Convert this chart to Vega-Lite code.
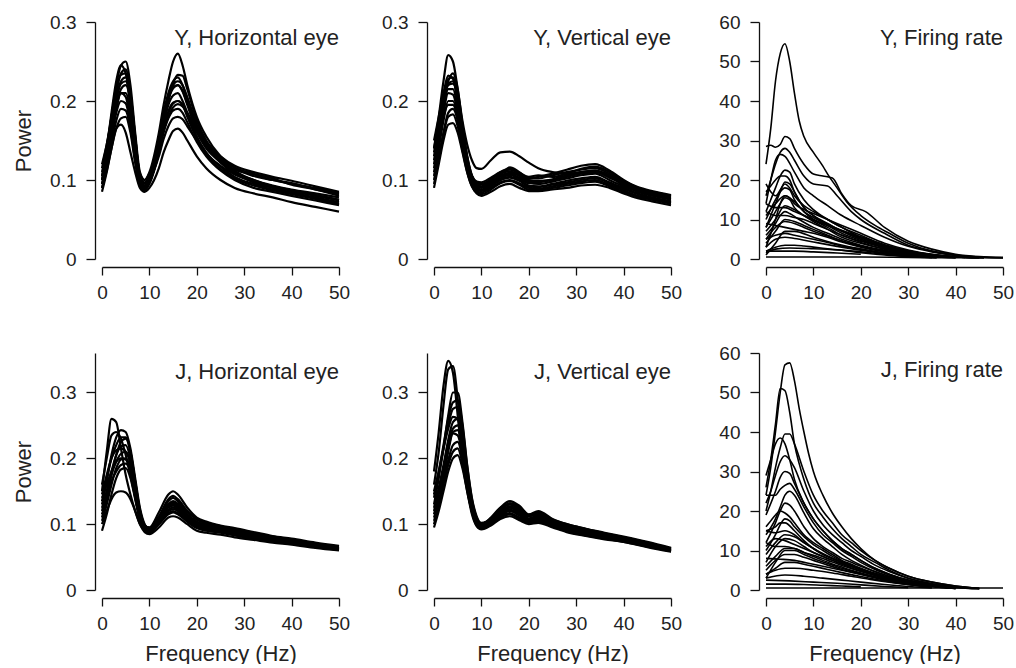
{
"$schema":"https://vega.github.io/schema/vega-lite/v6.json",
"background":"white",
"padding":{"left":12,"top":13,"right":0,"bottom":0},
"config":{
 "font":"Liberation Sans",
 "view":{"stroke":null},
 "axis":{"grid":false,"domainColor":"#111","tickColor":"#111","labelColor":"#222","labelFontSize":19,"labelFlush":false,"labelOverlap":false,"labelBound":false,"domainWidth":1.3,"tickWidth":1.3,"titleFontSize":22,"titleFontWeight":"normal","titleColor":"#222"},
 "axisX":{"tickSize":8,"labelPadding":8,"offset":8,"titlePadding":10},
 "axisY":{"tickSize":9,"labelPadding":10,"offset":7,"titlePadding":14},
 "title":{"fontSize":22,"fontWeight":"normal","color":"#222","anchor":"end","frame":"group","offset":0},
 "line":{"color":"black","interpolate":"monotone"}
},
"datasets":{
"yh":[
{"s":1,"f":0,"v":0.11},{"s":1,"f":1,"v":0.14},{"s":1,"f":2,"v":0.18},{"s":1,"f":3,"v":0.22},{"s":1,"f":4,"v":0.245},{"s":1,"f":5,"v":0.25},{"s":1,"f":6,"v":0.22},{"s":1,"f":7,"v":0.16},{"s":1,"f":8,"v":0.11},{"s":1,"f":9,"v":0.1},{"s":1,"f":10,"v":0.11},{"s":1,"f":12,"v":0.16},{"s":1,"f":13,"v":0.195},{"s":1,"f":14,"v":0.225},{"s":1,"f":15,"v":0.25},{"s":1,"f":16,"v":0.26},{"s":1,"f":17,"v":0.245},{"s":1,"f":18,"v":0.22},{"s":1,"f":20,"v":0.18},{"s":1,"f":22,"v":0.155},{"s":1,"f":25,"v":0.13},{"s":1,"f":28,"v":0.115},{"s":1,"f":32,"v":0.105},{"s":1,"f":36,"v":0.1},{"s":1,"f":40,"v":0.095},{"s":1,"f":45,"v":0.09},{"s":1,"f":50,"v":0.083},
{"s":2,"f":0,"v":0.085},{"s":2,"f":1,"v":0.11},{"s":2,"f":2,"v":0.14},{"s":2,"f":3,"v":0.165},{"s":2,"f":4,"v":0.17},{"s":2,"f":5,"v":0.16},{"s":2,"f":6,"v":0.135},{"s":2,"f":7,"v":0.11},{"s":2,"f":8,"v":0.09},{"s":2,"f":9,"v":0.085},{"s":2,"f":10,"v":0.09},{"s":2,"f":12,"v":0.115},{"s":2,"f":13,"v":0.135},{"s":2,"f":14,"v":0.15},{"s":2,"f":15,"v":0.162},{"s":2,"f":16,"v":0.165},{"s":2,"f":17,"v":0.16},{"s":2,"f":18,"v":0.15},{"s":2,"f":20,"v":0.13},{"s":2,"f":22,"v":0.115},{"s":2,"f":25,"v":0.1},{"s":2,"f":28,"v":0.09},{"s":2,"f":32,"v":0.083},{"s":2,"f":36,"v":0.078},{"s":2,"f":40,"v":0.072},{"s":2,"f":45,"v":0.066},{"s":2,"f":50,"v":0.06},
{"s":3,"f":0,"v":0.1},{"s":3,"f":1,"v":0.13},{"s":3,"f":2,"v":0.17},{"s":3,"f":3,"v":0.21},{"s":3,"f":4,"v":0.235},{"s":3,"f":5,"v":0.24},{"s":3,"f":6,"v":0.21},{"s":3,"f":7,"v":0.155},{"s":3,"f":8,"v":0.105},{"s":3,"f":9,"v":0.095},{"s":3,"f":10,"v":0.105},{"s":3,"f":12,"v":0.15},{"s":3,"f":13,"v":0.185},{"s":3,"f":14,"v":0.21},{"s":3,"f":15,"v":0.225},{"s":3,"f":16,"v":0.23},{"s":3,"f":17,"v":0.22},{"s":3,"f":18,"v":0.2},{"s":3,"f":20,"v":0.165},{"s":3,"f":22,"v":0.145},{"s":3,"f":25,"v":0.125},{"s":3,"f":28,"v":0.11},{"s":3,"f":32,"v":0.1},{"s":3,"f":36,"v":0.093},{"s":3,"f":40,"v":0.088},{"s":3,"f":45,"v":0.083},{"s":3,"f":50,"v":0.078},
{"s":4,"f":0,"v":0.095},{"s":4,"f":1,"v":0.125},{"s":4,"f":2,"v":0.16},{"s":4,"f":3,"v":0.19},{"s":4,"f":4,"v":0.21},{"s":4,"f":5,"v":0.205},{"s":4,"f":6,"v":0.175},{"s":4,"f":7,"v":0.13},{"s":4,"f":8,"v":0.095},{"s":4,"f":9,"v":0.088},{"s":4,"f":10,"v":0.098},{"s":4,"f":12,"v":0.14},{"s":4,"f":13,"v":0.17},{"s":4,"f":14,"v":0.195},{"s":4,"f":15,"v":0.207},{"s":4,"f":16,"v":0.21},{"s":4,"f":17,"v":0.2},{"s":4,"f":18,"v":0.185},{"s":4,"f":20,"v":0.155},{"s":4,"f":22,"v":0.135},{"s":4,"f":25,"v":0.117},{"s":4,"f":28,"v":0.104},{"s":4,"f":32,"v":0.095},{"s":4,"f":36,"v":0.088},{"s":4,"f":40,"v":0.083},{"s":4,"f":45,"v":0.077},{"s":4,"f":50,"v":0.07},
{"s":5,"f":0,"v":0.12},{"s":5,"f":1,"v":0.145},{"s":5,"f":2,"v":0.175},{"s":5,"f":3,"v":0.205},{"s":5,"f":4,"v":0.225},{"s":5,"f":5,"v":0.23},{"s":5,"f":6,"v":0.205},{"s":5,"f":7,"v":0.15},{"s":5,"f":8,"v":0.108},{"s":5,"f":9,"v":0.1},{"s":5,"f":10,"v":0.108},{"s":5,"f":12,"v":0.142},{"s":5,"f":13,"v":0.165},{"s":5,"f":14,"v":0.185},{"s":5,"f":15,"v":0.197},{"s":5,"f":16,"v":0.2},{"s":5,"f":17,"v":0.195},{"s":5,"f":18,"v":0.183},{"s":5,"f":20,"v":0.16},{"s":5,"f":22,"v":0.14},{"s":5,"f":25,"v":0.123},{"s":5,"f":28,"v":0.113},{"s":5,"f":32,"v":0.107},{"s":5,"f":36,"v":0.1},{"s":5,"f":40,"v":0.096},{"s":5,"f":45,"v":0.088},{"s":5,"f":50,"v":0.082},
{"s":6,"f":0,"v":0.09},{"s":6,"f":1,"v":0.115},{"s":6,"f":2,"v":0.145},{"s":6,"f":3,"v":0.175},{"s":6,"f":4,"v":0.19},{"s":6,"f":5,"v":0.188},{"s":6,"f":6,"v":0.165},{"s":6,"f":7,"v":0.125},{"s":6,"f":8,"v":0.095},{"s":6,"f":9,"v":0.09},{"s":6,"f":10,"v":0.097},{"s":6,"f":12,"v":0.135},{"s":6,"f":13,"v":0.16},{"s":6,"f":14,"v":0.178},{"s":6,"f":15,"v":0.188},{"s":6,"f":16,"v":0.19},{"s":6,"f":17,"v":0.185},{"s":6,"f":18,"v":0.173},{"s":6,"f":20,"v":0.148},{"s":6,"f":22,"v":0.13},{"s":6,"f":25,"v":0.112},{"s":6,"f":28,"v":0.1},{"s":6,"f":32,"v":0.09},{"s":6,"f":36,"v":0.085},{"s":6,"f":40,"v":0.08},{"s":6,"f":45,"v":0.074},{"s":6,"f":50,"v":0.068},
{"s":7,"f":0,"v":0.105},{"s":7,"f":1,"v":0.14},{"s":7,"f":2,"v":0.185},{"s":7,"f":3,"v":0.225},{"s":7,"f":4,"v":0.245},{"s":7,"f":5,"v":0.235},{"s":7,"f":6,"v":0.195},{"s":7,"f":7,"v":0.14},{"s":7,"f":8,"v":0.1},{"s":7,"f":9,"v":0.092},{"s":7,"f":10,"v":0.1},{"s":7,"f":12,"v":0.145},{"s":7,"f":13,"v":0.178},{"s":7,"f":14,"v":0.203},{"s":7,"f":15,"v":0.217},{"s":7,"f":16,"v":0.22},{"s":7,"f":17,"v":0.213},{"s":7,"f":18,"v":0.197},{"s":7,"f":20,"v":0.168},{"s":7,"f":22,"v":0.148},{"s":7,"f":25,"v":0.128},{"s":7,"f":28,"v":0.116},{"s":7,"f":32,"v":0.108},{"s":7,"f":36,"v":0.102},{"s":7,"f":40,"v":0.094},{"s":7,"f":45,"v":0.088},{"s":7,"f":50,"v":0.08},
{"s":8,"f":0,"v":0.1},{"s":8,"f":1,"v":0.125},{"s":8,"f":2,"v":0.155},{"s":8,"f":3,"v":0.185},{"s":8,"f":4,"v":0.2},{"s":8,"f":5,"v":0.197},{"s":8,"f":6,"v":0.17},{"s":8,"f":7,"v":0.128},{"s":8,"f":8,"v":0.097},{"s":8,"f":9,"v":0.092},{"s":8,"f":10,"v":0.1},{"s":8,"f":12,"v":0.13},{"s":8,"f":13,"v":0.152},{"s":8,"f":14,"v":0.168},{"s":8,"f":15,"v":0.178},{"s":8,"f":16,"v":0.18},{"s":8,"f":17,"v":0.177},{"s":8,"f":18,"v":0.168},{"s":8,"f":20,"v":0.15},{"s":8,"f":22,"v":0.133},{"s":8,"f":25,"v":0.118},{"s":8,"f":28,"v":0.107},{"s":8,"f":32,"v":0.098},{"s":8,"f":36,"v":0.092},{"s":8,"f":40,"v":0.086},{"s":8,"f":45,"v":0.08},{"s":8,"f":50,"v":0.074},
{"s":9,"f":0,"v":0.095},{"s":9,"f":1,"v":0.12},{"s":9,"f":2,"v":0.155},{"s":9,"f":3,"v":0.19},{"s":9,"f":4,"v":0.215},{"s":9,"f":5,"v":0.22},{"s":9,"f":6,"v":0.198},{"s":9,"f":7,"v":0.145},{"s":9,"f":8,"v":0.1},{"s":9,"f":9,"v":0.09},{"s":9,"f":10,"v":0.097},{"s":9,"f":12,"v":0.14},{"s":9,"f":13,"v":0.172},{"s":9,"f":14,"v":0.2},{"s":9,"f":15,"v":0.222},{"s":9,"f":16,"v":0.233},{"s":9,"f":17,"v":0.232},{"s":9,"f":18,"v":0.215},{"s":9,"f":20,"v":0.175},{"s":9,"f":22,"v":0.15},{"s":9,"f":25,"v":0.128},{"s":9,"f":28,"v":0.112},{"s":9,"f":32,"v":0.1},{"s":9,"f":36,"v":0.092},{"s":9,"f":40,"v":0.087},{"s":9,"f":45,"v":0.081},{"s":9,"f":50,"v":0.075},
{"s":10,"f":0,"v":0.1},{"s":10,"f":1,"v":0.128},{"s":10,"f":2,"v":0.165},{"s":10,"f":3,"v":0.2},{"s":10,"f":4,"v":0.222},{"s":10,"f":5,"v":0.225},{"s":10,"f":6,"v":0.198},{"s":10,"f":7,"v":0.145},{"s":10,"f":8,"v":0.1},{"s":10,"f":9,"v":0.092},{"s":10,"f":10,"v":0.1},{"s":10,"f":12,"v":0.145},{"s":10,"f":13,"v":0.177},{"s":10,"f":14,"v":0.202},{"s":10,"f":15,"v":0.216},{"s":10,"f":16,"v":0.22},{"s":10,"f":17,"v":0.212},{"s":10,"f":18,"v":0.195},{"s":10,"f":20,"v":0.162},{"s":10,"f":22,"v":0.142},{"s":10,"f":25,"v":0.122},{"s":10,"f":28,"v":0.108},{"s":10,"f":32,"v":0.099},{"s":10,"f":36,"v":0.092},{"s":10,"f":40,"v":0.087},{"s":10,"f":45,"v":0.081},{"s":10,"f":50,"v":0.075},
{"s":11,"f":0,"v":0.09},{"s":11,"f":1,"v":0.112},{"s":11,"f":2,"v":0.14},{"s":11,"f":3,"v":0.165},{"s":11,"f":4,"v":0.178},{"s":11,"f":5,"v":0.18},{"s":11,"f":6,"v":0.16},{"s":11,"f":7,"v":0.122},{"s":11,"f":8,"v":0.093},{"s":11,"f":9,"v":0.087},{"s":11,"f":10,"v":0.095},{"s":11,"f":12,"v":0.135},{"s":11,"f":13,"v":0.165},{"s":11,"f":14,"v":0.187},{"s":11,"f":15,"v":0.198},{"s":11,"f":16,"v":0.2},{"s":11,"f":17,"v":0.195},{"s":11,"f":18,"v":0.18},{"s":11,"f":20,"v":0.152},{"s":11,"f":22,"v":0.132},{"s":11,"f":25,"v":0.114},{"s":11,"f":28,"v":0.102},{"s":11,"f":32,"v":0.093},{"s":11,"f":36,"v":0.087},{"s":11,"f":40,"v":0.082},{"s":11,"f":45,"v":0.076},{"s":11,"f":50,"v":0.069},
{"s":12,"f":0,"v":0.115},{"s":12,"f":1,"v":0.145},{"s":12,"f":2,"v":0.18},{"s":12,"f":3,"v":0.215},{"s":12,"f":4,"v":0.233},{"s":12,"f":5,"v":0.235},{"s":12,"f":6,"v":0.21},{"s":12,"f":7,"v":0.155},{"s":12,"f":8,"v":0.105},{"s":12,"f":9,"v":0.097},{"s":12,"f":10,"v":0.105},{"s":12,"f":12,"v":0.14},{"s":12,"f":13,"v":0.163},{"s":12,"f":14,"v":0.18},{"s":12,"f":15,"v":0.192},{"s":12,"f":16,"v":0.196},{"s":12,"f":17,"v":0.193},{"s":12,"f":18,"v":0.185},{"s":12,"f":20,"v":0.165},{"s":12,"f":22,"v":0.148},{"s":12,"f":25,"v":0.13},{"s":12,"f":28,"v":0.118},{"s":12,"f":32,"v":0.11},{"s":12,"f":36,"v":0.104},{"s":12,"f":40,"v":0.099},{"s":12,"f":45,"v":0.092},{"s":12,"f":50,"v":0.085},
{"s":13,"f":0,"v":0.105},{"s":13,"f":1,"v":0.13},{"s":13,"f":2,"v":0.165},{"s":13,"f":3,"v":0.195},{"s":13,"f":4,"v":0.21},{"s":13,"f":5,"v":0.21},{"s":13,"f":6,"v":0.185},{"s":13,"f":7,"v":0.138},{"s":13,"f":8,"v":0.1},{"s":13,"f":9,"v":0.093},{"s":13,"f":10,"v":0.1},{"s":13,"f":12,"v":0.145},{"s":13,"f":13,"v":0.178},{"s":13,"f":14,"v":0.205},{"s":13,"f":15,"v":0.22},{"s":13,"f":16,"v":0.225},{"s":13,"f":17,"v":0.22},{"s":13,"f":18,"v":0.205},{"s":13,"f":20,"v":0.17},{"s":13,"f":22,"v":0.146},{"s":13,"f":25,"v":0.124},{"s":13,"f":28,"v":0.109},{"s":13,"f":32,"v":0.097},{"s":13,"f":36,"v":0.09},{"s":13,"f":40,"v":0.084},{"s":13,"f":45,"v":0.078},{"s":13,"f":50,"v":0.072}
],
"yv":[
{"s":1,"f":0,"v":0.14},{"s":1,"f":1,"v":0.18},{"s":1,"f":2,"v":0.225},{"s":1,"f":3,"v":0.258},{"s":1,"f":4,"v":0.25},{"s":1,"f":5,"v":0.215},{"s":1,"f":6,"v":0.175},{"s":1,"f":7,"v":0.145},{"s":1,"f":8,"v":0.125},{"s":1,"f":9,"v":0.115},{"s":1,"f":10,"v":0.114},{"s":1,"f":12,"v":0.125},{"s":1,"f":14,"v":0.135},{"s":1,"f":16,"v":0.136},{"s":1,"f":18,"v":0.13},{"s":1,"f":20,"v":0.122},{"s":1,"f":22,"v":0.115},{"s":1,"f":25,"v":0.11},{"s":1,"f":28,"v":0.108},{"s":1,"f":31,"v":0.11},{"s":1,"f":34,"v":0.112},{"s":1,"f":37,"v":0.105},{"s":1,"f":40,"v":0.095},{"s":1,"f":43,"v":0.088},{"s":1,"f":46,"v":0.085},{"s":1,"f":50,"v":0.08},
{"s":2,"f":0,"v":0.15},{"s":2,"f":1,"v":0.18},{"s":2,"f":2,"v":0.21},{"s":2,"f":3,"v":0.232},{"s":2,"f":4,"v":0.228},{"s":2,"f":5,"v":0.2},{"s":2,"f":6,"v":0.16},{"s":2,"f":7,"v":0.125},{"s":2,"f":8,"v":0.105},{"s":2,"f":9,"v":0.098},{"s":2,"f":10,"v":0.097},{"s":2,"f":12,"v":0.103},{"s":2,"f":14,"v":0.11},{"s":2,"f":16,"v":0.113},{"s":2,"f":18,"v":0.108},{"s":2,"f":20,"v":0.103},{"s":2,"f":22,"v":0.102},{"s":2,"f":25,"v":0.106},{"s":2,"f":28,"v":0.11},{"s":2,"f":31,"v":0.113},{"s":2,"f":34,"v":0.115},{"s":2,"f":37,"v":0.108},{"s":2,"f":40,"v":0.098},{"s":2,"f":43,"v":0.09},{"s":2,"f":46,"v":0.085},{"s":2,"f":50,"v":0.08},
{"s":3,"f":0,"v":0.09},{"s":3,"f":1,"v":0.12},{"s":3,"f":2,"v":0.15},{"s":3,"f":3,"v":0.17},{"s":3,"f":4,"v":0.172},{"s":3,"f":5,"v":0.16},{"s":3,"f":6,"v":0.135},{"s":3,"f":7,"v":0.11},{"s":3,"f":8,"v":0.092},{"s":3,"f":9,"v":0.083},{"s":3,"f":10,"v":0.08},{"s":3,"f":12,"v":0.085},{"s":3,"f":14,"v":0.092},{"s":3,"f":16,"v":0.095},{"s":3,"f":18,"v":0.09},{"s":3,"f":20,"v":0.086},{"s":3,"f":22,"v":0.086},{"s":3,"f":25,"v":0.088},{"s":3,"f":28,"v":0.09},{"s":3,"f":31,"v":0.093},{"s":3,"f":34,"v":0.094},{"s":3,"f":37,"v":0.09},{"s":3,"f":40,"v":0.083},{"s":3,"f":43,"v":0.077},{"s":3,"f":46,"v":0.073},{"s":3,"f":50,"v":0.068},
{"s":4,"f":0,"v":0.12},{"s":4,"f":1,"v":0.155},{"s":4,"f":2,"v":0.19},{"s":4,"f":3,"v":0.215},{"s":4,"f":4,"v":0.215},{"s":4,"f":5,"v":0.19},{"s":4,"f":6,"v":0.15},{"s":4,"f":7,"v":0.118},{"s":4,"f":8,"v":0.1},{"s":4,"f":9,"v":0.092},{"s":4,"f":10,"v":0.09},{"s":4,"f":12,"v":0.096},{"s":4,"f":14,"v":0.104},{"s":4,"f":16,"v":0.107},{"s":4,"f":18,"v":0.103},{"s":4,"f":20,"v":0.097},{"s":4,"f":22,"v":0.095},{"s":4,"f":25,"v":0.098},{"s":4,"f":28,"v":0.102},{"s":4,"f":31,"v":0.106},{"s":4,"f":34,"v":0.108},{"s":4,"f":37,"v":0.1},{"s":4,"f":40,"v":0.092},{"s":4,"f":43,"v":0.085},{"s":4,"f":46,"v":0.08},{"s":4,"f":50,"v":0.075},
{"s":5,"f":0,"v":0.105},{"s":5,"f":1,"v":0.14},{"s":5,"f":2,"v":0.175},{"s":5,"f":3,"v":0.2},{"s":5,"f":4,"v":0.2},{"s":5,"f":5,"v":0.18},{"s":5,"f":6,"v":0.145},{"s":5,"f":7,"v":0.115},{"s":5,"f":8,"v":0.097},{"s":5,"f":9,"v":0.088},{"s":5,"f":10,"v":0.086},{"s":5,"f":12,"v":0.092},{"s":5,"f":14,"v":0.1},{"s":5,"f":16,"v":0.104},{"s":5,"f":18,"v":0.1},{"s":5,"f":20,"v":0.093},{"s":5,"f":22,"v":0.092},{"s":5,"f":25,"v":0.095},{"s":5,"f":28,"v":0.099},{"s":5,"f":31,"v":0.102},{"s":5,"f":34,"v":0.104},{"s":5,"f":37,"v":0.097},{"s":5,"f":40,"v":0.09},{"s":5,"f":43,"v":0.083},{"s":5,"f":46,"v":0.078},{"s":5,"f":50,"v":0.073},
{"s":6,"f":0,"v":0.13},{"s":6,"f":1,"v":0.165},{"s":6,"f":2,"v":0.2},{"s":6,"f":3,"v":0.225},{"s":6,"f":4,"v":0.235},{"s":6,"f":5,"v":0.215},{"s":6,"f":6,"v":0.17},{"s":6,"f":7,"v":0.13},{"s":6,"f":8,"v":0.105},{"s":6,"f":9,"v":0.096},{"s":6,"f":10,"v":0.094},{"s":6,"f":12,"v":0.1},{"s":6,"f":14,"v":0.108},{"s":6,"f":16,"v":0.111},{"s":6,"f":18,"v":0.106},{"s":6,"f":20,"v":0.1},{"s":6,"f":22,"v":0.099},{"s":6,"f":25,"v":0.1},{"s":6,"f":28,"v":0.104},{"s":6,"f":31,"v":0.108},{"s":6,"f":34,"v":0.11},{"s":6,"f":37,"v":0.103},{"s":6,"f":40,"v":0.095},{"s":6,"f":43,"v":0.088},{"s":6,"f":46,"v":0.083},{"s":6,"f":50,"v":0.078},
{"s":7,"f":0,"v":0.1},{"s":7,"f":1,"v":0.13},{"s":7,"f":2,"v":0.16},{"s":7,"f":3,"v":0.185},{"s":7,"f":4,"v":0.19},{"s":7,"f":5,"v":0.175},{"s":7,"f":6,"v":0.142},{"s":7,"f":7,"v":0.113},{"s":7,"f":8,"v":0.094},{"s":7,"f":9,"v":0.086},{"s":7,"f":10,"v":0.084},{"s":7,"f":12,"v":0.09},{"s":7,"f":14,"v":0.097},{"s":7,"f":16,"v":0.1},{"s":7,"f":18,"v":0.096},{"s":7,"f":20,"v":0.09},{"s":7,"f":22,"v":0.089},{"s":7,"f":25,"v":0.092},{"s":7,"f":28,"v":0.095},{"s":7,"f":31,"v":0.098},{"s":7,"f":34,"v":0.1},{"s":7,"f":37,"v":0.094},{"s":7,"f":40,"v":0.087},{"s":7,"f":43,"v":0.08},{"s":7,"f":46,"v":0.076},{"s":7,"f":50,"v":0.071},
{"s":8,"f":0,"v":0.14},{"s":8,"f":1,"v":0.17},{"s":8,"f":2,"v":0.2},{"s":8,"f":3,"v":0.22},{"s":8,"f":4,"v":0.222},{"s":8,"f":5,"v":0.205},{"s":8,"f":6,"v":0.165},{"s":8,"f":7,"v":0.128},{"s":8,"f":8,"v":0.103},{"s":8,"f":9,"v":0.094},{"s":8,"f":10,"v":0.092},{"s":8,"f":12,"v":0.098},{"s":8,"f":14,"v":0.106},{"s":8,"f":16,"v":0.116},{"s":8,"f":18,"v":0.11},{"s":8,"f":20,"v":0.102},{"s":8,"f":22,"v":0.104},{"s":8,"f":25,"v":0.108},{"s":8,"f":28,"v":0.113},{"s":8,"f":31,"v":0.118},{"s":8,"f":34,"v":0.12},{"s":8,"f":37,"v":0.112},{"s":8,"f":40,"v":0.1},{"s":8,"f":43,"v":0.09},{"s":8,"f":46,"v":0.084},{"s":8,"f":50,"v":0.079},
{"s":9,"f":0,"v":0.11},{"s":9,"f":1,"v":0.145},{"s":9,"f":2,"v":0.185},{"s":9,"f":3,"v":0.21},{"s":9,"f":4,"v":0.208},{"s":9,"f":5,"v":0.185},{"s":9,"f":6,"v":0.15},{"s":9,"f":7,"v":0.12},{"s":9,"f":8,"v":0.1},{"s":9,"f":9,"v":0.09},{"s":9,"f":10,"v":0.088},{"s":9,"f":12,"v":0.094},{"s":9,"f":14,"v":0.102},{"s":9,"f":16,"v":0.106},{"s":9,"f":18,"v":0.102},{"s":9,"f":20,"v":0.096},{"s":9,"f":22,"v":0.097},{"s":9,"f":25,"v":0.1},{"s":9,"f":28,"v":0.105},{"s":9,"f":31,"v":0.109},{"s":9,"f":34,"v":0.111},{"s":9,"f":37,"v":0.105},{"s":9,"f":40,"v":0.093},{"s":9,"f":43,"v":0.086},{"s":9,"f":46,"v":0.081},{"s":9,"f":50,"v":0.076},
{"s":10,"f":0,"v":0.125},{"s":10,"f":1,"v":0.16},{"s":10,"f":2,"v":0.195},{"s":10,"f":3,"v":0.222},{"s":10,"f":4,"v":0.225},{"s":10,"f":5,"v":0.2},{"s":10,"f":6,"v":0.16},{"s":10,"f":7,"v":0.124},{"s":10,"f":8,"v":0.102},{"s":10,"f":9,"v":0.093},{"s":10,"f":10,"v":0.091},{"s":10,"f":12,"v":0.097},{"s":10,"f":14,"v":0.105},{"s":10,"f":16,"v":0.109},{"s":10,"f":18,"v":0.105},{"s":10,"f":20,"v":0.099},{"s":10,"f":22,"v":0.098},{"s":10,"f":25,"v":0.101},{"s":10,"f":28,"v":0.106},{"s":10,"f":31,"v":0.11},{"s":10,"f":34,"v":0.112},{"s":10,"f":37,"v":0.106},{"s":10,"f":40,"v":0.096},{"s":10,"f":43,"v":0.088},{"s":10,"f":46,"v":0.082},{"s":10,"f":50,"v":0.077},
{"s":11,"f":0,"v":0.095},{"s":11,"f":1,"v":0.125},{"s":11,"f":2,"v":0.158},{"s":11,"f":3,"v":0.18},{"s":11,"f":4,"v":0.183},{"s":11,"f":5,"v":0.168},{"s":11,"f":6,"v":0.138},{"s":11,"f":7,"v":0.11},{"s":11,"f":8,"v":0.092},{"s":11,"f":9,"v":0.084},{"s":11,"f":10,"v":0.082},{"s":11,"f":12,"v":0.088},{"s":11,"f":14,"v":0.096},{"s":11,"f":16,"v":0.099},{"s":11,"f":18,"v":0.094},{"s":11,"f":20,"v":0.088},{"s":11,"f":22,"v":0.088},{"s":11,"f":25,"v":0.09},{"s":11,"f":28,"v":0.093},{"s":11,"f":31,"v":0.096},{"s":11,"f":34,"v":0.098},{"s":11,"f":37,"v":0.092},{"s":11,"f":40,"v":0.085},{"s":11,"f":43,"v":0.079},{"s":11,"f":46,"v":0.075},{"s":11,"f":50,"v":0.07},
{"s":12,"f":0,"v":0.135},{"s":12,"f":1,"v":0.17},{"s":12,"f":2,"v":0.205},{"s":12,"f":3,"v":0.228},{"s":12,"f":4,"v":0.23},{"s":12,"f":5,"v":0.21},{"s":12,"f":6,"v":0.168},{"s":12,"f":7,"v":0.13},{"s":12,"f":8,"v":0.106},{"s":12,"f":9,"v":0.097},{"s":12,"f":10,"v":0.095},{"s":12,"f":12,"v":0.101},{"s":12,"f":14,"v":0.11},{"s":12,"f":16,"v":0.114},{"s":12,"f":18,"v":0.109},{"s":12,"f":20,"v":0.104},{"s":12,"f":22,"v":0.106},{"s":12,"f":25,"v":0.104},{"s":12,"f":28,"v":0.108},{"s":12,"f":31,"v":0.114},{"s":12,"f":34,"v":0.117},{"s":12,"f":37,"v":0.11},{"s":12,"f":40,"v":0.099},{"s":12,"f":43,"v":0.091},{"s":12,"f":46,"v":0.086},{"s":12,"f":50,"v":0.081},
{"s":13,"f":0,"v":0.115},{"s":13,"f":1,"v":0.15},{"s":13,"f":2,"v":0.18},{"s":13,"f":3,"v":0.195},{"s":13,"f":4,"v":0.195},{"s":13,"f":5,"v":0.178},{"s":13,"f":6,"v":0.145},{"s":13,"f":7,"v":0.117},{"s":13,"f":8,"v":0.098},{"s":13,"f":9,"v":0.09},{"s":13,"f":10,"v":0.087},{"s":13,"f":12,"v":0.093},{"s":13,"f":14,"v":0.1},{"s":13,"f":16,"v":0.103},{"s":13,"f":18,"v":0.099},{"s":13,"f":20,"v":0.092},{"s":13,"f":22,"v":0.091},{"s":13,"f":25,"v":0.094},{"s":13,"f":28,"v":0.097},{"s":13,"f":31,"v":0.1},{"s":13,"f":34,"v":0.102},{"s":13,"f":37,"v":0.096},{"s":13,"f":40,"v":0.089},{"s":13,"f":43,"v":0.082},{"s":13,"f":46,"v":0.077},{"s":13,"f":50,"v":0.072}
],
"jh":[
{"s":1,"f":0,"v":0.15},{"s":1,"f":1,"v":0.21},{"s":1,"f":2,"v":0.26},{"s":1,"f":3,"v":0.255},{"s":1,"f":4,"v":0.215},{"s":1,"f":5,"v":0.175},{"s":1,"f":6,"v":0.145},{"s":1,"f":7,"v":0.12},{"s":1,"f":8,"v":0.1},{"s":1,"f":9,"v":0.092},{"s":1,"f":10,"v":0.092},{"s":1,"f":12,"v":0.11},{"s":1,"f":14,"v":0.13},{"s":1,"f":15,"v":0.133},{"s":1,"f":16,"v":0.128},{"s":1,"f":18,"v":0.112},{"s":1,"f":20,"v":0.103},{"s":1,"f":22,"v":0.1},{"s":1,"f":25,"v":0.095},{"s":1,"f":28,"v":0.09},{"s":1,"f":32,"v":0.085},{"s":1,"f":36,"v":0.08},{"s":1,"f":40,"v":0.076},{"s":1,"f":45,"v":0.07},{"s":1,"f":50,"v":0.066},
{"s":2,"f":0,"v":0.13},{"s":2,"f":1,"v":0.165},{"s":2,"f":2,"v":0.205},{"s":2,"f":3,"v":0.232},{"s":2,"f":4,"v":0.243},{"s":2,"f":5,"v":0.24},{"s":2,"f":6,"v":0.215},{"s":2,"f":7,"v":0.17},{"s":2,"f":8,"v":0.125},{"s":2,"f":9,"v":0.1},{"s":2,"f":10,"v":0.092},{"s":2,"f":12,"v":0.11},{"s":2,"f":14,"v":0.135},{"s":2,"f":15,"v":0.14},{"s":2,"f":16,"v":0.135},{"s":2,"f":18,"v":0.118},{"s":2,"f":20,"v":0.108},{"s":2,"f":22,"v":0.102},{"s":2,"f":25,"v":0.097},{"s":2,"f":28,"v":0.092},{"s":2,"f":32,"v":0.086},{"s":2,"f":36,"v":0.08},{"s":2,"f":40,"v":0.075},{"s":2,"f":45,"v":0.069},{"s":2,"f":50,"v":0.064},
{"s":3,"f":0,"v":0.1},{"s":3,"f":1,"v":0.12},{"s":3,"f":2,"v":0.138},{"s":3,"f":3,"v":0.148},{"s":3,"f":4,"v":0.15},{"s":3,"f":5,"v":0.148},{"s":3,"f":6,"v":0.138},{"s":3,"f":7,"v":0.12},{"s":3,"f":8,"v":0.1},{"s":3,"f":9,"v":0.088},{"s":3,"f":10,"v":0.085},{"s":3,"f":12,"v":0.095},{"s":3,"f":14,"v":0.11},{"s":3,"f":15,"v":0.112},{"s":3,"f":16,"v":0.11},{"s":3,"f":18,"v":0.1},{"s":3,"f":20,"v":0.09},{"s":3,"f":22,"v":0.087},{"s":3,"f":25,"v":0.084},{"s":3,"f":28,"v":0.08},{"s":3,"f":32,"v":0.076},{"s":3,"f":36,"v":0.072},{"s":3,"f":40,"v":0.069},{"s":3,"f":45,"v":0.064},{"s":3,"f":50,"v":0.06},
{"s":4,"f":0,"v":0.12},{"s":4,"f":1,"v":0.15},{"s":4,"f":2,"v":0.18},{"s":4,"f":3,"v":0.205},{"s":4,"f":4,"v":0.218},{"s":4,"f":5,"v":0.22},{"s":4,"f":6,"v":0.2},{"s":4,"f":7,"v":0.16},{"s":4,"f":8,"v":0.118},{"s":4,"f":9,"v":0.095},{"s":4,"f":10,"v":0.09},{"s":4,"f":12,"v":0.105},{"s":4,"f":14,"v":0.125},{"s":4,"f":15,"v":0.128},{"s":4,"f":16,"v":0.124},{"s":4,"f":18,"v":0.11},{"s":4,"f":20,"v":0.1},{"s":4,"f":22,"v":0.095},{"s":4,"f":25,"v":0.091},{"s":4,"f":28,"v":0.087},{"s":4,"f":32,"v":0.082},{"s":4,"f":36,"v":0.077},{"s":4,"f":40,"v":0.073},{"s":4,"f":45,"v":0.067},{"s":4,"f":50,"v":0.062},
{"s":5,"f":0,"v":0.14},{"s":5,"f":1,"v":0.16},{"s":5,"f":2,"v":0.18},{"s":5,"f":3,"v":0.195},{"s":5,"f":4,"v":0.2},{"s":5,"f":5,"v":0.198},{"s":5,"f":6,"v":0.18},{"s":5,"f":7,"v":0.145},{"s":5,"f":8,"v":0.11},{"s":5,"f":9,"v":0.093},{"s":5,"f":10,"v":0.09},{"s":5,"f":12,"v":0.102},{"s":5,"f":14,"v":0.12},{"s":5,"f":15,"v":0.123},{"s":5,"f":16,"v":0.12},{"s":5,"f":18,"v":0.107},{"s":5,"f":20,"v":0.097},{"s":5,"f":22,"v":0.093},{"s":5,"f":25,"v":0.089},{"s":5,"f":28,"v":0.085},{"s":5,"f":32,"v":0.08},{"s":5,"f":36,"v":0.076},{"s":5,"f":40,"v":0.072},{"s":5,"f":45,"v":0.066},{"s":5,"f":50,"v":0.062},
{"s":6,"f":0,"v":0.16},{"s":6,"f":1,"v":0.2},{"s":6,"f":2,"v":0.235},{"s":6,"f":3,"v":0.24},{"s":6,"f":4,"v":0.23},{"s":6,"f":5,"v":0.205},{"s":6,"f":6,"v":0.175},{"s":6,"f":7,"v":0.14},{"s":6,"f":8,"v":0.11},{"s":6,"f":9,"v":0.095},{"s":6,"f":10,"v":0.093},{"s":6,"f":12,"v":0.107},{"s":6,"f":14,"v":0.127},{"s":6,"f":15,"v":0.13},{"s":6,"f":16,"v":0.126},{"s":6,"f":18,"v":0.112},{"s":6,"f":20,"v":0.102},{"s":6,"f":22,"v":0.098},{"s":6,"f":25,"v":0.093},{"s":6,"f":28,"v":0.089},{"s":6,"f":32,"v":0.084},{"s":6,"f":36,"v":0.079},{"s":6,"f":40,"v":0.075},{"s":6,"f":45,"v":0.069},{"s":6,"f":50,"v":0.065},
{"s":7,"f":0,"v":0.11},{"s":7,"f":1,"v":0.14},{"s":7,"f":2,"v":0.175},{"s":7,"f":3,"v":0.205},{"s":7,"f":4,"v":0.225},{"s":7,"f":5,"v":0.23},{"s":7,"f":6,"v":0.21},{"s":7,"f":7,"v":0.165},{"s":7,"f":8,"v":0.12},{"s":7,"f":9,"v":0.098},{"s":7,"f":10,"v":0.095},{"s":7,"f":12,"v":0.118},{"s":7,"f":14,"v":0.145},{"s":7,"f":15,"v":0.15},{"s":7,"f":16,"v":0.145},{"s":7,"f":18,"v":0.125},{"s":7,"f":20,"v":0.11},{"s":7,"f":22,"v":0.104},{"s":7,"f":25,"v":0.098},{"s":7,"f":28,"v":0.094},{"s":7,"f":32,"v":0.088},{"s":7,"f":36,"v":0.082},{"s":7,"f":40,"v":0.078},{"s":7,"f":45,"v":0.072},{"s":7,"f":50,"v":0.067},
{"s":8,"f":0,"v":0.09},{"s":8,"f":1,"v":0.115},{"s":8,"f":2,"v":0.145},{"s":8,"f":3,"v":0.17},{"s":8,"f":4,"v":0.183},{"s":8,"f":5,"v":0.185},{"s":8,"f":6,"v":0.17},{"s":8,"f":7,"v":0.138},{"s":8,"f":8,"v":0.105},{"s":8,"f":9,"v":0.09},{"s":8,"f":10,"v":0.087},{"s":8,"f":12,"v":0.1},{"s":8,"f":14,"v":0.117},{"s":8,"f":15,"v":0.12},{"s":8,"f":16,"v":0.117},{"s":8,"f":18,"v":0.104},{"s":8,"f":20,"v":0.094},{"s":8,"f":22,"v":0.09},{"s":8,"f":25,"v":0.087},{"s":8,"f":28,"v":0.083},{"s":8,"f":32,"v":0.078},{"s":8,"f":36,"v":0.074},{"s":8,"f":40,"v":0.071},{"s":8,"f":45,"v":0.065},{"s":8,"f":50,"v":0.061},
{"s":9,"f":0,"v":0.125},{"s":9,"f":1,"v":0.15},{"s":9,"f":2,"v":0.175},{"s":9,"f":3,"v":0.195},{"s":9,"f":4,"v":0.207},{"s":9,"f":5,"v":0.21},{"s":9,"f":6,"v":0.195},{"s":9,"f":7,"v":0.155},{"s":9,"f":8,"v":0.115},{"s":9,"f":9,"v":0.097},{"s":9,"f":10,"v":0.094},{"s":9,"f":12,"v":0.108},{"s":9,"f":14,"v":0.13},{"s":9,"f":15,"v":0.135},{"s":9,"f":16,"v":0.131},{"s":9,"f":18,"v":0.115},{"s":9,"f":20,"v":0.104},{"s":9,"f":22,"v":0.098},{"s":9,"f":25,"v":0.094},{"s":9,"f":28,"v":0.09},{"s":9,"f":32,"v":0.085},{"s":9,"f":36,"v":0.079},{"s":9,"f":40,"v":0.074},{"s":9,"f":45,"v":0.068},{"s":9,"f":50,"v":0.063},
{"s":10,"f":0,"v":0.105},{"s":10,"f":1,"v":0.13},{"s":10,"f":2,"v":0.16},{"s":10,"f":3,"v":0.185},{"s":10,"f":4,"v":0.198},{"s":10,"f":5,"v":0.2},{"s":10,"f":6,"v":0.185},{"s":10,"f":7,"v":0.148},{"s":10,"f":8,"v":0.112},{"s":10,"f":9,"v":0.094},{"s":10,"f":10,"v":0.09},{"s":10,"f":12,"v":0.104},{"s":10,"f":14,"v":0.122},{"s":10,"f":15,"v":0.125},{"s":10,"f":16,"v":0.122},{"s":10,"f":18,"v":0.108},{"s":10,"f":20,"v":0.098},{"s":10,"f":22,"v":0.093},{"s":10,"f":25,"v":0.09},{"s":10,"f":28,"v":0.086},{"s":10,"f":32,"v":0.081},{"s":10,"f":36,"v":0.077},{"s":10,"f":40,"v":0.073},{"s":10,"f":45,"v":0.067},{"s":10,"f":50,"v":0.063},
{"s":11,"f":0,"v":0.135},{"s":11,"f":1,"v":0.17},{"s":11,"f":2,"v":0.2},{"s":11,"f":3,"v":0.22},{"s":11,"f":4,"v":0.232},{"s":11,"f":5,"v":0.232},{"s":11,"f":6,"v":0.21},{"s":11,"f":7,"v":0.165},{"s":11,"f":8,"v":0.122},{"s":11,"f":9,"v":0.099},{"s":11,"f":10,"v":0.094},{"s":11,"f":12,"v":0.112},{"s":11,"f":14,"v":0.138},{"s":11,"f":15,"v":0.143},{"s":11,"f":16,"v":0.138},{"s":11,"f":18,"v":0.12},{"s":11,"f":20,"v":0.107},{"s":11,"f":22,"v":0.101},{"s":11,"f":25,"v":0.096},{"s":11,"f":28,"v":0.092},{"s":11,"f":32,"v":0.087},{"s":11,"f":36,"v":0.081},{"s":11,"f":40,"v":0.077},{"s":11,"f":45,"v":0.071},{"s":11,"f":50,"v":0.066},
{"s":12,"f":0,"v":0.115},{"s":12,"f":1,"v":0.14},{"s":12,"f":2,"v":0.165},{"s":12,"f":3,"v":0.18},{"s":12,"f":4,"v":0.19},{"s":12,"f":5,"v":0.192},{"s":12,"f":6,"v":0.178},{"s":12,"f":7,"v":0.142},{"s":12,"f":8,"v":0.108},{"s":12,"f":9,"v":0.092},{"s":12,"f":10,"v":0.089},{"s":12,"f":12,"v":0.1},{"s":12,"f":14,"v":0.115},{"s":12,"f":15,"v":0.118},{"s":12,"f":16,"v":0.115},{"s":12,"f":18,"v":0.104},{"s":12,"f":20,"v":0.095},{"s":12,"f":22,"v":0.091},{"s":12,"f":25,"v":0.088},{"s":12,"f":28,"v":0.084},{"s":12,"f":32,"v":0.079},{"s":12,"f":36,"v":0.075},{"s":12,"f":40,"v":0.071},{"s":12,"f":45,"v":0.066},{"s":12,"f":50,"v":0.061},
{"s":13,"f":0,"v":0.145},{"s":13,"f":1,"v":0.175},{"s":13,"f":2,"v":0.2},{"s":13,"f":3,"v":0.212},{"s":13,"f":4,"v":0.215},{"s":13,"f":5,"v":0.21},{"s":13,"f":6,"v":0.192},{"s":13,"f":7,"v":0.152},{"s":13,"f":8,"v":0.113},{"s":13,"f":9,"v":0.096},{"s":13,"f":10,"v":0.093},{"s":13,"f":12,"v":0.108},{"s":13,"f":14,"v":0.128},{"s":13,"f":15,"v":0.132},{"s":13,"f":16,"v":0.128},{"s":13,"f":18,"v":0.113},{"s":13,"f":20,"v":0.102},{"s":13,"f":22,"v":0.097},{"s":13,"f":25,"v":0.093},{"s":13,"f":28,"v":0.089},{"s":13,"f":32,"v":0.084},{"s":13,"f":36,"v":0.078},{"s":13,"f":40,"v":0.074},{"s":13,"f":45,"v":0.068},{"s":13,"f":50,"v":0.064}
],
"jv":[
{"s":1,"f":0,"v":0.18},{"s":1,"f":1,"v":0.24},{"s":1,"f":2,"v":0.31},{"s":1,"f":3,"v":0.348},{"s":1,"f":4,"v":0.33},{"s":1,"f":5,"v":0.265},{"s":1,"f":6,"v":0.195},{"s":1,"f":7,"v":0.15},{"s":1,"f":8,"v":0.12},{"s":1,"f":9,"v":0.105},{"s":1,"f":10,"v":0.1},{"s":1,"f":12,"v":0.108},{"s":1,"f":14,"v":0.12},{"s":1,"f":16,"v":0.125},{"s":1,"f":18,"v":0.118},{"s":1,"f":20,"v":0.112},{"s":1,"f":22,"v":0.115},{"s":1,"f":25,"v":0.105},{"s":1,"f":28,"v":0.098},{"s":1,"f":32,"v":0.092},{"s":1,"f":36,"v":0.085},{"s":1,"f":40,"v":0.08},{"s":1,"f":45,"v":0.072},{"s":1,"f":50,"v":0.063},
{"s":2,"f":0,"v":0.16},{"s":2,"f":1,"v":0.21},{"s":2,"f":2,"v":0.28},{"s":2,"f":3,"v":0.335},{"s":2,"f":4,"v":0.34},{"s":2,"f":5,"v":0.29},{"s":2,"f":6,"v":0.21},{"s":2,"f":7,"v":0.155},{"s":2,"f":8,"v":0.122},{"s":2,"f":9,"v":0.105},{"s":2,"f":10,"v":0.1},{"s":2,"f":12,"v":0.11},{"s":2,"f":14,"v":0.125},{"s":2,"f":16,"v":0.13},{"s":2,"f":18,"v":0.122},{"s":2,"f":20,"v":0.113},{"s":2,"f":22,"v":0.118},{"s":2,"f":25,"v":0.107},{"s":2,"f":28,"v":0.1},{"s":2,"f":32,"v":0.093},{"s":2,"f":36,"v":0.086},{"s":2,"f":40,"v":0.08},{"s":2,"f":45,"v":0.072},{"s":2,"f":50,"v":0.063},
{"s":3,"f":0,"v":0.13},{"s":3,"f":1,"v":0.17},{"s":3,"f":2,"v":0.215},{"s":3,"f":3,"v":0.265},{"s":3,"f":4,"v":0.3},{"s":3,"f":5,"v":0.3},{"s":3,"f":6,"v":0.255},{"s":3,"f":7,"v":0.19},{"s":3,"f":8,"v":0.14},{"s":3,"f":9,"v":0.112},{"s":3,"f":10,"v":0.102},{"s":3,"f":12,"v":0.108},{"s":3,"f":14,"v":0.125},{"s":3,"f":16,"v":0.135},{"s":3,"f":18,"v":0.128},{"s":3,"f":20,"v":0.115},{"s":3,"f":22,"v":0.12},{"s":3,"f":25,"v":0.108},{"s":3,"f":28,"v":0.1},{"s":3,"f":32,"v":0.093},{"s":3,"f":36,"v":0.087},{"s":3,"f":40,"v":0.081},{"s":3,"f":45,"v":0.073},{"s":3,"f":50,"v":0.064},
{"s":4,"f":0,"v":0.095},{"s":4,"f":1,"v":0.12},{"s":4,"f":2,"v":0.15},{"s":4,"f":3,"v":0.18},{"s":4,"f":4,"v":0.2},{"s":4,"f":5,"v":0.205},{"s":4,"f":6,"v":0.185},{"s":4,"f":7,"v":0.15},{"s":4,"f":8,"v":0.115},{"s":4,"f":9,"v":0.097},{"s":4,"f":10,"v":0.092},{"s":4,"f":12,"v":0.098},{"s":4,"f":14,"v":0.108},{"s":4,"f":16,"v":0.112},{"s":4,"f":18,"v":0.106},{"s":4,"f":20,"v":0.1},{"s":4,"f":22,"v":0.102},{"s":4,"f":25,"v":0.095},{"s":4,"f":28,"v":0.088},{"s":4,"f":32,"v":0.082},{"s":4,"f":36,"v":0.077},{"s":4,"f":40,"v":0.073},{"s":4,"f":45,"v":0.065},{"s":4,"f":50,"v":0.058},
{"s":5,"f":0,"v":0.12},{"s":5,"f":1,"v":0.15},{"s":5,"f":2,"v":0.185},{"s":5,"f":3,"v":0.22},{"s":5,"f":4,"v":0.245},{"s":5,"f":5,"v":0.25},{"s":5,"f":6,"v":0.22},{"s":5,"f":7,"v":0.17},{"s":5,"f":8,"v":0.128},{"s":5,"f":9,"v":0.105},{"s":5,"f":10,"v":0.097},{"s":5,"f":12,"v":0.103},{"s":5,"f":14,"v":0.116},{"s":5,"f":16,"v":0.122},{"s":5,"f":18,"v":0.115},{"s":5,"f":20,"v":0.107},{"s":5,"f":22,"v":0.11},{"s":5,"f":25,"v":0.1},{"s":5,"f":28,"v":0.093},{"s":5,"f":32,"v":0.087},{"s":5,"f":36,"v":0.081},{"s":5,"f":40,"v":0.076},{"s":5,"f":45,"v":0.068},{"s":5,"f":50,"v":0.06},
{"s":6,"f":0,"v":0.14},{"s":6,"f":1,"v":0.175},{"s":6,"f":2,"v":0.215},{"s":6,"f":3,"v":0.25},{"s":6,"f":4,"v":0.275},{"s":6,"f":5,"v":0.278},{"s":6,"f":6,"v":0.24},{"s":6,"f":7,"v":0.18},{"s":6,"f":8,"v":0.133},{"s":6,"f":9,"v":0.108},{"s":6,"f":10,"v":0.1},{"s":6,"f":12,"v":0.106},{"s":6,"f":14,"v":0.12},{"s":6,"f":16,"v":0.13},{"s":6,"f":18,"v":0.124},{"s":6,"f":20,"v":0.112},{"s":6,"f":22,"v":0.116},{"s":6,"f":25,"v":0.104},{"s":6,"f":28,"v":0.097},{"s":6,"f":32,"v":0.09},{"s":6,"f":36,"v":0.084},{"s":6,"f":40,"v":0.078},{"s":6,"f":45,"v":0.07},{"s":6,"f":50,"v":0.062},
{"s":7,"f":0,"v":0.11},{"s":7,"f":1,"v":0.135},{"s":7,"f":2,"v":0.165},{"s":7,"f":3,"v":0.197},{"s":7,"f":4,"v":0.22},{"s":7,"f":5,"v":0.225},{"s":7,"f":6,"v":0.2},{"s":7,"f":7,"v":0.16},{"s":7,"f":8,"v":0.122},{"s":7,"f":9,"v":0.1},{"s":7,"f":10,"v":0.094},{"s":7,"f":12,"v":0.1},{"s":7,"f":14,"v":0.112},{"s":7,"f":16,"v":0.117},{"s":7,"f":18,"v":0.11},{"s":7,"f":20,"v":0.103},{"s":7,"f":22,"v":0.106},{"s":7,"f":25,"v":0.098},{"s":7,"f":28,"v":0.09},{"s":7,"f":32,"v":0.084},{"s":7,"f":36,"v":0.079},{"s":7,"f":40,"v":0.074},{"s":7,"f":45,"v":0.067},{"s":7,"f":50,"v":0.059},
{"s":8,"f":0,"v":0.15},{"s":8,"f":1,"v":0.18},{"s":8,"f":2,"v":0.215},{"s":8,"f":3,"v":0.245},{"s":8,"f":4,"v":0.263},{"s":8,"f":5,"v":0.26},{"s":8,"f":6,"v":0.225},{"s":8,"f":7,"v":0.175},{"s":8,"f":8,"v":0.13},{"s":8,"f":9,"v":0.106},{"s":8,"f":10,"v":0.098},{"s":8,"f":12,"v":0.104},{"s":8,"f":14,"v":0.118},{"s":8,"f":16,"v":0.127},{"s":8,"f":18,"v":0.12},{"s":8,"f":20,"v":0.109},{"s":8,"f":22,"v":0.113},{"s":8,"f":25,"v":0.102},{"s":8,"f":28,"v":0.095},{"s":8,"f":32,"v":0.089},{"s":8,"f":36,"v":0.083},{"s":8,"f":40,"v":0.077},{"s":8,"f":45,"v":0.069},{"s":8,"f":50,"v":0.061},
{"s":9,"f":0,"v":0.1},{"s":9,"f":1,"v":0.13},{"s":9,"f":2,"v":0.17},{"s":9,"f":3,"v":0.21},{"s":9,"f":4,"v":0.238},{"s":9,"f":5,"v":0.235},{"s":9,"f":6,"v":0.205},{"s":9,"f":7,"v":0.16},{"s":9,"f":8,"v":0.12},{"s":9,"f":9,"v":0.1},{"s":9,"f":10,"v":0.093},{"s":9,"f":12,"v":0.1},{"s":9,"f":14,"v":0.113},{"s":9,"f":16,"v":0.12},{"s":9,"f":18,"v":0.113},{"s":9,"f":20,"v":0.105},{"s":9,"f":22,"v":0.108},{"s":9,"f":25,"v":0.099},{"s":9,"f":28,"v":0.092},{"s":9,"f":32,"v":0.086},{"s":9,"f":36,"v":0.08},{"s":9,"f":40,"v":0.075},{"s":9,"f":45,"v":0.067},{"s":9,"f":50,"v":0.06},
{"s":10,"f":0,"v":0.125},{"s":10,"f":1,"v":0.155},{"s":10,"f":2,"v":0.19},{"s":10,"f":3,"v":0.228},{"s":10,"f":4,"v":0.255},{"s":10,"f":5,"v":0.26},{"s":10,"f":6,"v":0.228},{"s":10,"f":7,"v":0.175},{"s":10,"f":8,"v":0.13},{"s":10,"f":9,"v":0.106},{"s":10,"f":10,"v":0.098},{"s":10,"f":12,"v":0.104},{"s":10,"f":14,"v":0.117},{"s":10,"f":16,"v":0.125},{"s":10,"f":18,"v":0.118},{"s":10,"f":20,"v":0.108},{"s":10,"f":22,"v":0.112},{"s":10,"f":25,"v":0.101},{"s":10,"f":28,"v":0.094},{"s":10,"f":32,"v":0.088},{"s":10,"f":36,"v":0.082},{"s":10,"f":40,"v":0.077},{"s":10,"f":45,"v":0.069},{"s":10,"f":50,"v":0.061},
{"s":11,"f":0,"v":0.105},{"s":11,"f":1,"v":0.13},{"s":11,"f":2,"v":0.16},{"s":11,"f":3,"v":0.19},{"s":11,"f":4,"v":0.21},{"s":11,"f":5,"v":0.215},{"s":11,"f":6,"v":0.192},{"s":11,"f":7,"v":0.155},{"s":11,"f":8,"v":0.118},{"s":11,"f":9,"v":0.098},{"s":11,"f":10,"v":0.093},{"s":11,"f":12,"v":0.099},{"s":11,"f":14,"v":0.11},{"s":11,"f":16,"v":0.115},{"s":11,"f":18,"v":0.108},{"s":11,"f":20,"v":0.102},{"s":11,"f":22,"v":0.104},{"s":11,"f":25,"v":0.097},{"s":11,"f":28,"v":0.089},{"s":11,"f":32,"v":0.083},{"s":11,"f":36,"v":0.078},{"s":11,"f":40,"v":0.073},{"s":11,"f":45,"v":0.066},{"s":11,"f":50,"v":0.059},
{"s":12,"f":0,"v":0.145},{"s":12,"f":1,"v":0.18},{"s":12,"f":2,"v":0.22},{"s":12,"f":3,"v":0.26},{"s":12,"f":4,"v":0.285},{"s":12,"f":5,"v":0.288},{"s":12,"f":6,"v":0.25},{"s":12,"f":7,"v":0.188},{"s":12,"f":8,"v":0.138},{"s":12,"f":9,"v":0.11},{"s":12,"f":10,"v":0.101},{"s":12,"f":12,"v":0.107},{"s":12,"f":14,"v":0.122},{"s":12,"f":16,"v":0.132},{"s":12,"f":18,"v":0.126},{"s":12,"f":20,"v":0.114},{"s":12,"f":22,"v":0.118},{"s":12,"f":25,"v":0.106},{"s":12,"f":28,"v":0.098},{"s":12,"f":32,"v":0.091},{"s":12,"f":36,"v":0.085},{"s":12,"f":40,"v":0.079},{"s":12,"f":45,"v":0.071},{"s":12,"f":50,"v":0.063},
{"s":13,"f":0,"v":0.115},{"s":13,"f":1,"v":0.145},{"s":13,"f":2,"v":0.18},{"s":13,"f":3,"v":0.215},{"s":13,"f":4,"v":0.24},{"s":13,"f":5,"v":0.243},{"s":13,"f":6,"v":0.213},{"s":13,"f":7,"v":0.166},{"s":13,"f":8,"v":0.125},{"s":13,"f":9,"v":0.103},{"s":13,"f":10,"v":0.096},{"s":13,"f":12,"v":0.102},{"s":13,"f":14,"v":0.114},{"s":13,"f":16,"v":0.121},{"s":13,"f":18,"v":0.114},{"s":13,"f":20,"v":0.106},{"s":13,"f":22,"v":0.109},{"s":13,"f":25,"v":0.1},{"s":13,"f":28,"v":0.093},{"s":13,"f":32,"v":0.087},{"s":13,"f":36,"v":0.081},{"s":13,"f":40,"v":0.076},{"s":13,"f":45,"v":0.068},{"s":13,"f":50,"v":0.06}
],
"yf":[
{"s":1,"f":0,"v":24},{"s":1,"f":1,"v":33},{"s":1,"f":2,"v":45},{"s":1,"f":3,"v":52},{"s":1,"f":4,"v":54.5},{"s":1,"f":5,"v":50},{"s":1,"f":6,"v":42},{"s":1,"f":7,"v":35},{"s":1,"f":8,"v":31},{"s":1,"f":10,"v":27},{"s":1,"f":12,"v":23.5},{"s":1,"f":13,"v":21.5},{"s":1,"f":15,"v":18},{"s":1,"f":17,"v":14.5},{"s":1,"f":20,"v":11},{"s":1,"f":23,"v":8.5},{"s":1,"f":26,"v":6.5},{"s":1,"f":30,"v":4},{"s":1,"f":35,"v":2},{"s":1,"f":40,"v":1},{"s":1,"f":45,"v":0.5},{"s":1,"f":50,"v":0.3},
{"s":2,"f":0,"v":28.5},{"s":2,"f":1,"v":28.8},{"s":2,"f":2,"v":28.3},{"s":2,"f":3,"v":29},{"s":2,"f":4,"v":31},{"s":2,"f":5,"v":30.5},{"s":2,"f":6,"v":28},{"s":2,"f":8,"v":24},{"s":2,"f":10,"v":21.5},{"s":2,"f":12,"v":21},{"s":2,"f":14,"v":20.5},{"s":2,"f":16,"v":16.5},{"s":2,"f":18,"v":13.5},{"s":2,"f":21,"v":12},{"s":2,"f":25,"v":8},{"s":2,"f":30,"v":4.5},{"s":2,"f":35,"v":2.5},{"s":2,"f":40,"v":1.2},{"s":2,"f":45,"v":0.6},{"s":2,"f":50,"v":0.4},
{"s":3,"f":0,"v":16},{"s":3,"f":1,"v":20},{"s":3,"f":2,"v":24},{"s":3,"f":3,"v":27},{"s":3,"f":4,"v":28},{"s":3,"f":5,"v":27},{"s":3,"f":6,"v":25},{"s":3,"f":8,"v":21},{"s":3,"f":10,"v":19},{"s":3,"f":13,"v":18.5},{"s":3,"f":15,"v":16},{"s":3,"f":18,"v":12},{"s":3,"f":20,"v":10},{"s":3,"f":25,"v":6.5},{"s":3,"f":30,"v":3.5},{"s":3,"f":35,"v":2},{"s":3,"f":40,"v":1},{"s":3,"f":45,"v":0.5},{"s":3,"f":50,"v":0.3},
{"s":4,"f":0,"v":14},{"s":4,"f":1,"v":20},{"s":4,"f":2,"v":25},{"s":4,"f":3,"v":26.5},{"s":4,"f":4,"v":26},{"s":4,"f":6,"v":22},{"s":4,"f":8,"v":18},{"s":4,"f":10,"v":16},{"s":4,"f":13,"v":13.5},{"s":4,"f":16,"v":11},{"s":4,"f":20,"v":8.5},{"s":4,"f":25,"v":5.5},{"s":4,"f":30,"v":3.2},{"s":4,"f":35,"v":1.8},{"s":4,"f":40,"v":0.9},{"s":4,"f":46,"v":0.4},
{"s":5,"f":0,"v":12},{"s":5,"f":1,"v":15},{"s":5,"f":2,"v":18},{"s":5,"f":3,"v":21},{"s":5,"f":4,"v":22.5},{"s":5,"f":5,"v":22},{"s":5,"f":6,"v":19},{"s":5,"f":8,"v":15},{"s":5,"f":10,"v":12.5},{"s":5,"f":13,"v":10},{"s":5,"f":16,"v":8},{"s":5,"f":20,"v":5.5},{"s":5,"f":25,"v":3.5},{"s":5,"f":30,"v":2},{"s":5,"f":35,"v":1},{"s":5,"f":40,"v":0.5},{"s":5,"f":46,"v":0.3},
{"s":6,"f":0,"v":17},{"s":6,"f":1,"v":18.5},{"s":6,"f":2,"v":20},{"s":6,"f":3,"v":21},{"s":6,"f":4,"v":21},{"s":6,"f":5,"v":20},{"s":6,"f":6,"v":17},{"s":6,"f":8,"v":13},{"s":6,"f":10,"v":11},{"s":6,"f":13,"v":9},{"s":6,"f":16,"v":7},{"s":6,"f":20,"v":5},{"s":6,"f":25,"v":3},{"s":6,"f":30,"v":1.8},{"s":6,"f":35,"v":1},{"s":6,"f":40,"v":0.5},{"s":6,"f":46,"v":0.3},
{"s":7,"f":0,"v":10},{"s":7,"f":2,"v":15},{"s":7,"f":3,"v":17},{"s":7,"f":4,"v":18},{"s":7,"f":5,"v":17.5},{"s":7,"f":6,"v":15},{"s":7,"f":8,"v":12},{"s":7,"f":10,"v":10},{"s":7,"f":13,"v":8},{"s":7,"f":16,"v":6},{"s":7,"f":20,"v":4.5},{"s":7,"f":25,"v":2.8},{"s":7,"f":30,"v":1.6},{"s":7,"f":35,"v":0.9},{"s":7,"f":40,"v":0.4},
{"s":8,"f":0,"v":8},{"s":8,"f":2,"v":12},{"s":8,"f":3,"v":14},{"s":8,"f":4,"v":15.5},{"s":8,"f":5,"v":15},{"s":8,"f":6,"v":13},{"s":8,"f":8,"v":11},{"s":8,"f":10,"v":9.5},{"s":8,"f":13,"v":7.5},{"s":8,"f":16,"v":5.5},{"s":8,"f":20,"v":4},{"s":8,"f":25,"v":2.5},{"s":8,"f":30,"v":1.4},{"s":8,"f":35,"v":0.8},{"s":8,"f":40,"v":0.4},
{"s":9,"f":0,"v":14},{"s":9,"f":2,"v":13},{"s":9,"f":4,"v":13},{"s":9,"f":6,"v":12},{"s":9,"f":8,"v":11},{"s":9,"f":10,"v":10},{"s":9,"f":13,"v":8.5},{"s":9,"f":16,"v":7},{"s":9,"f":20,"v":5},{"s":9,"f":25,"v":3.2},{"s":9,"f":30,"v":1.8},{"s":9,"f":35,"v":1},{"s":9,"f":42,"v":0.4},
{"s":10,"f":0,"v":6},{"s":10,"f":2,"v":9},{"s":10,"f":3,"v":11},{"s":10,"f":4,"v":12},{"s":10,"f":5,"v":11.5},{"s":10,"f":7,"v":10},{"s":10,"f":10,"v":8},{"s":10,"f":13,"v":6.5},{"s":10,"f":16,"v":5},{"s":10,"f":20,"v":3.5},{"s":10,"f":25,"v":2.2},{"s":10,"f":30,"v":1.2},{"s":10,"f":35,"v":0.6},{"s":10,"f":40,"v":0.3},
{"s":11,"f":0,"v":4},{"s":11,"f":2,"v":7},{"s":11,"f":4,"v":10},{"s":11,"f":6,"v":9.5},{"s":11,"f":8,"v":8.5},{"s":11,"f":10,"v":7.5},{"s":11,"f":13,"v":6},{"s":11,"f":16,"v":4.5},{"s":11,"f":20,"v":3.2},{"s":11,"f":25,"v":2},{"s":11,"f":30,"v":1.1},{"s":11,"f":36,"v":0.5},
{"s":12,"f":0,"v":9},{"s":12,"f":2,"v":8.5},{"s":12,"f":4,"v":8},{"s":12,"f":6,"v":7.5},{"s":12,"f":8,"v":7},{"s":12,"f":10,"v":6.5},{"s":12,"f":13,"v":5.5},{"s":12,"f":16,"v":4.3},{"s":12,"f":20,"v":3},{"s":12,"f":25,"v":1.8},{"s":12,"f":30,"v":1},{"s":12,"f":36,"v":0.5},
{"s":13,"f":0,"v":5},{"s":13,"f":2,"v":6},{"s":13,"f":4,"v":6.5},{"s":13,"f":6,"v":6},{"s":13,"f":8,"v":5.5},{"s":13,"f":10,"v":5},{"s":13,"f":13,"v":4.2},{"s":13,"f":16,"v":3.3},{"s":13,"f":20,"v":2.5},{"s":13,"f":25,"v":1.5},{"s":13,"f":30,"v":0.8},{"s":13,"f":36,"v":0.4},
{"s":14,"f":0,"v":2},{"s":14,"f":2,"v":3},{"s":14,"f":4,"v":3.5},{"s":14,"f":6,"v":3.5},{"s":14,"f":8,"v":3.3},{"s":14,"f":10,"v":3},{"s":14,"f":13,"v":2.6},{"s":14,"f":16,"v":2.2},{"s":14,"f":20,"v":1.6},{"s":14,"f":25,"v":1},{"s":14,"f":30,"v":0.6},{"s":14,"f":36,"v":0.3},
{"s":15,"f":0,"v":1.5},{"s":15,"f":2,"v":2.5},{"s":15,"f":5,"v":2.8},{"s":15,"f":10,"v":2.6},{"s":15,"f":15,"v":2.3},{"s":15,"f":20,"v":1.8},{"s":15,"f":25,"v":1.2},{"s":15,"f":30,"v":0.7},{"s":15,"f":36,"v":0.4},
{"s":16,"f":0,"v":0.5},{"s":16,"f":10,"v":0.5},{"s":16,"f":20,"v":0.5},{"s":16,"f":30,"v":0.4},{"s":16,"f":40,"v":0.3},{"s":16,"f":50,"v":0.3},
{"s":17,"f":0,"v":3},{"s":17,"f":2,"v":10},{"s":17,"f":3,"v":14},{"s":17,"f":4,"v":16},{"s":17,"f":5,"v":15.5},{"s":17,"f":6,"v":14},{"s":17,"f":8,"v":12.5},{"s":17,"f":10,"v":11.5},{"s":17,"f":13,"v":10},{"s":17,"f":16,"v":8.5},{"s":17,"f":20,"v":6.5},{"s":17,"f":25,"v":4},{"s":17,"f":30,"v":2.3},{"s":17,"f":35,"v":1.2},{"s":17,"f":40,"v":0.6},{"s":17,"f":45,"v":0.3},
{"s":18,"f":0,"v":12},{"s":18,"f":2,"v":11},{"s":18,"f":4,"v":11},{"s":18,"f":6,"v":10.5},{"s":18,"f":8,"v":10},{"s":18,"f":10,"v":9},{"s":18,"f":13,"v":7.5},{"s":18,"f":16,"v":6},{"s":18,"f":20,"v":4.2},{"s":18,"f":25,"v":2.6},{"s":18,"f":30,"v":1.5},{"s":18,"f":35,"v":0.8},{"s":18,"f":40,"v":0.4},
{"s":19,"f":0,"v":1},{"s":19,"f":2,"v":4},{"s":19,"f":4,"v":7},{"s":19,"f":6,"v":7},{"s":19,"f":10,"v":5.5},{"s":19,"f":15,"v":3.8},{"s":19,"f":20,"v":2.5},{"s":19,"f":25,"v":1.5},{"s":19,"f":30,"v":0.8},{"s":19,"f":35,"v":0.4},
{"s":20,"f":0,"v":19},{"s":20,"f":1,"v":17},{"s":20,"f":2,"v":16},{"s":20,"f":4,"v":19},{"s":20,"f":5,"v":18},{"s":20,"f":6,"v":16},{"s":20,"f":8,"v":13.5},{"s":20,"f":10,"v":12},{"s":20,"f":13,"v":10},{"s":20,"f":16,"v":8},{"s":20,"f":20,"v":6},{"s":20,"f":25,"v":3.5},{"s":20,"f":30,"v":2},{"s":20,"f":35,"v":1.1},{"s":20,"f":40,"v":0.5},{"s":20,"f":45,"v":0.3},
{"s":21,"f":0,"v":8},{"s":21,"f":2,"v":14},{"s":21,"f":3,"v":17},{"s":21,"f":4,"v":19.5},{"s":21,"f":5,"v":19},{"s":21,"f":6,"v":17},{"s":21,"f":8,"v":13},{"s":21,"f":10,"v":11},{"s":21,"f":13,"v":8.5},{"s":21,"f":16,"v":6.5},{"s":21,"f":20,"v":4.7},{"s":21,"f":25,"v":3},{"s":21,"f":30,"v":1.7},{"s":21,"f":35,"v":0.9},{"s":21,"f":40,"v":0.4},
{"s":22,"f":0,"v":5},{"s":22,"f":2,"v":8},{"s":22,"f":4,"v":9.5},{"s":22,"f":6,"v":9},{"s":22,"f":8,"v":8},{"s":22,"f":10,"v":7},{"s":22,"f":13,"v":5.8},{"s":22,"f":16,"v":4.6},{"s":22,"f":20,"v":3.3},{"s":22,"f":25,"v":2},{"s":22,"f":30,"v":1.1},{"s":22,"f":35,"v":0.5},
{"s":23,"f":0,"v":11},{"s":23,"f":2,"v":14},{"s":23,"f":4,"v":16},{"s":23,"f":6,"v":14.5},{"s":23,"f":8,"v":12},{"s":23,"f":10,"v":10.5},{"s":23,"f":13,"v":8.8},{"s":23,"f":16,"v":7.2},{"s":23,"f":20,"v":5.3},{"s":23,"f":25,"v":3.3},{"s":23,"f":30,"v":1.9},{"s":23,"f":35,"v":1},{"s":23,"f":40,"v":0.5},
{"s":24,"f":0,"v":3},{"s":24,"f":2,"v":5},{"s":24,"f":4,"v":5.5},{"s":24,"f":6,"v":5.2},{"s":24,"f":10,"v":4.3},{"s":24,"f":15,"v":3.2},{"s":24,"f":20,"v":2.2},{"s":24,"f":25,"v":1.4},{"s":24,"f":30,"v":0.8},{"s":24,"f":35,"v":0.4},
{"s":25,"f":0,"v":7},{"s":25,"f":2,"v":10},{"s":25,"f":4,"v":13.5},{"s":25,"f":6,"v":12.5},{"s":25,"f":8,"v":11},{"s":25,"f":10,"v":9.8},{"s":25,"f":13,"v":8.5},{"s":25,"f":16,"v":7.2},{"s":25,"f":20,"v":5.6},{"s":25,"f":25,"v":3.6},{"s":25,"f":30,"v":2.1},{"s":25,"f":35,"v":1.1},{"s":25,"f":40,"v":0.5},
{"s":26,"f":0,"v":2},{"s":26,"f":3,"v":2},{"s":26,"f":6,"v":2},{"s":26,"f":10,"v":1.8},{"s":26,"f":15,"v":1.5},{"s":26,"f":20,"v":1.2}
],
"jf":[
{"s":1,"f":0,"v":24},{"s":1,"f":1,"v":31},{"s":1,"f":2,"v":40},{"s":1,"f":3,"v":50},{"s":1,"f":4,"v":57},{"s":1,"f":5,"v":57.5},{"s":1,"f":6,"v":53},{"s":1,"f":7,"v":46},{"s":1,"f":8,"v":40},{"s":1,"f":9,"v":34.5},{"s":1,"f":10,"v":30},{"s":1,"f":12,"v":24},{"s":1,"f":14,"v":19.5},{"s":1,"f":16,"v":16},{"s":1,"f":18,"v":13},{"s":1,"f":20,"v":10.5},{"s":1,"f":23,"v":7.5},{"s":1,"f":26,"v":5.5},{"s":1,"f":30,"v":3.5},{"s":1,"f":35,"v":2},{"s":1,"f":40,"v":1},{"s":1,"f":45,"v":0.4},
{"s":2,"f":0,"v":26},{"s":2,"f":1,"v":33},{"s":2,"f":2,"v":42},{"s":2,"f":3,"v":51},{"s":2,"f":4,"v":50.5},{"s":2,"f":5,"v":45},{"s":2,"f":6,"v":37},{"s":2,"f":7,"v":32},{"s":2,"f":8,"v":28},{"s":2,"f":10,"v":22},{"s":2,"f":12,"v":18.5},{"s":2,"f":14,"v":15.5},{"s":2,"f":16,"v":13},{"s":2,"f":18,"v":11},{"s":2,"f":20,"v":9},{"s":2,"f":23,"v":7},{"s":2,"f":26,"v":5},{"s":2,"f":30,"v":3},{"s":2,"f":35,"v":1.6},{"s":2,"f":40,"v":0.8},{"s":2,"f":45,"v":0.3},
{"s":3,"f":0,"v":20},{"s":3,"f":1,"v":25},{"s":3,"f":2,"v":31},{"s":3,"f":3,"v":36},{"s":3,"f":4,"v":39.5},{"s":3,"f":5,"v":39.5},{"s":3,"f":6,"v":37},{"s":3,"f":8,"v":30},{"s":3,"f":10,"v":24},{"s":3,"f":12,"v":20},{"s":3,"f":14,"v":17},{"s":3,"f":16,"v":14},{"s":3,"f":18,"v":12},{"s":3,"f":20,"v":10},{"s":3,"f":23,"v":7.5},{"s":3,"f":26,"v":5.5},{"s":3,"f":30,"v":3.5},{"s":3,"f":35,"v":2},{"s":3,"f":40,"v":1},{"s":3,"f":45,"v":0.4},
{"s":4,"f":0,"v":29},{"s":4,"f":1,"v":33},{"s":4,"f":2,"v":37},{"s":4,"f":3,"v":38.5},{"s":4,"f":4,"v":37},{"s":4,"f":5,"v":33},{"s":4,"f":6,"v":28},{"s":4,"f":8,"v":22},{"s":4,"f":10,"v":18},{"s":4,"f":12,"v":15},{"s":4,"f":14,"v":12.5},{"s":4,"f":16,"v":10.5},{"s":4,"f":18,"v":9},{"s":4,"f":20,"v":7.5},{"s":4,"f":23,"v":5.5},{"s":4,"f":26,"v":4},{"s":4,"f":30,"v":2.5},{"s":4,"f":35,"v":1.4},{"s":4,"f":40,"v":0.6},
{"s":5,"f":0,"v":22},{"s":5,"f":1,"v":25},{"s":5,"f":2,"v":29},{"s":5,"f":3,"v":32.5},{"s":5,"f":4,"v":34},{"s":5,"f":5,"v":33},{"s":5,"f":6,"v":31},{"s":5,"f":8,"v":25},{"s":5,"f":10,"v":20},{"s":5,"f":12,"v":16.5},{"s":5,"f":14,"v":14},{"s":5,"f":16,"v":12},{"s":5,"f":18,"v":10},{"s":5,"f":20,"v":8.5},{"s":5,"f":23,"v":6.3},{"s":5,"f":26,"v":4.7},{"s":5,"f":30,"v":3},{"s":5,"f":35,"v":1.6},{"s":5,"f":40,"v":0.8},
{"s":6,"f":0,"v":19},{"s":6,"f":2,"v":25},{"s":6,"f":3,"v":28.5},{"s":6,"f":4,"v":30},{"s":6,"f":5,"v":29.5},{"s":6,"f":6,"v":27},{"s":6,"f":8,"v":22},{"s":6,"f":10,"v":18},{"s":6,"f":12,"v":15},{"s":6,"f":14,"v":12.5},{"s":6,"f":16,"v":10.5},{"s":6,"f":18,"v":9},{"s":6,"f":20,"v":7.5},{"s":6,"f":23,"v":5.5},{"s":6,"f":26,"v":4},{"s":6,"f":30,"v":2.5},{"s":6,"f":35,"v":1.3},{"s":6,"f":40,"v":0.6},
{"s":7,"f":0,"v":24},{"s":7,"f":2,"v":24},{"s":7,"f":3,"v":25.5},{"s":7,"f":4,"v":26.5},{"s":7,"f":5,"v":27},{"s":7,"f":6,"v":25.5},{"s":7,"f":8,"v":21},{"s":7,"f":10,"v":17},{"s":7,"f":12,"v":14},{"s":7,"f":14,"v":12},{"s":7,"f":16,"v":10},{"s":7,"f":18,"v":8.5},{"s":7,"f":20,"v":7},{"s":7,"f":23,"v":5.2},{"s":7,"f":26,"v":3.8},{"s":7,"f":30,"v":2.3},{"s":7,"f":35,"v":1.2},{"s":7,"f":40,"v":0.5},
{"s":8,"f":0,"v":14},{"s":8,"f":2,"v":18},{"s":8,"f":3,"v":21},{"s":8,"f":4,"v":24},{"s":8,"f":5,"v":25},{"s":8,"f":6,"v":24},{"s":8,"f":8,"v":19.5},{"s":8,"f":10,"v":15.5},{"s":8,"f":12,"v":13},{"s":8,"f":14,"v":11},{"s":8,"f":16,"v":9},{"s":8,"f":18,"v":7.5},{"s":8,"f":20,"v":6.3},{"s":8,"f":23,"v":4.7},{"s":8,"f":26,"v":3.5},{"s":8,"f":30,"v":2.1},{"s":8,"f":35,"v":1.1},{"s":8,"f":40,"v":0.5},
{"s":9,"f":0,"v":16},{"s":9,"f":1,"v":17.5},{"s":9,"f":2,"v":19},{"s":9,"f":3,"v":20},{"s":9,"f":4,"v":19.5},{"s":9,"f":5,"v":18.5},{"s":9,"f":6,"v":17},{"s":9,"f":8,"v":14},{"s":9,"f":10,"v":12},{"s":9,"f":12,"v":10.5},{"s":9,"f":14,"v":9},{"s":9,"f":16,"v":7.5},{"s":9,"f":18,"v":6.5},{"s":9,"f":20,"v":5.5},{"s":9,"f":25,"v":3.5},{"s":9,"f":30,"v":2},{"s":9,"f":35,"v":1},{"s":9,"f":40,"v":0.5},
{"s":10,"f":0,"v":10},{"s":10,"f":2,"v":14},{"s":10,"f":3,"v":16.5},{"s":10,"f":4,"v":18},{"s":10,"f":5,"v":17.5},{"s":10,"f":6,"v":16},{"s":10,"f":8,"v":13.5},{"s":10,"f":10,"v":11.5},{"s":10,"f":12,"v":10},{"s":10,"f":14,"v":8.5},{"s":10,"f":16,"v":7.3},{"s":10,"f":18,"v":6.3},{"s":10,"f":20,"v":5.3},{"s":10,"f":25,"v":3.3},{"s":10,"f":30,"v":1.9},{"s":10,"f":35,"v":1},{"s":10,"f":40,"v":0.5},
{"s":11,"f":0,"v":15},{"s":11,"f":2,"v":14.5},{"s":11,"f":4,"v":15},{"s":11,"f":6,"v":14},{"s":11,"f":8,"v":12},{"s":11,"f":10,"v":10.5},{"s":11,"f":12,"v":9},{"s":11,"f":14,"v":8},{"s":11,"f":16,"v":7},{"s":11,"f":18,"v":6},{"s":11,"f":20,"v":5},{"s":11,"f":25,"v":3.2},{"s":11,"f":30,"v":1.8},{"s":11,"f":35,"v":1},{"s":11,"f":40,"v":0.4},
{"s":12,"f":0,"v":7},{"s":12,"f":2,"v":11},{"s":12,"f":4,"v":13},{"s":12,"f":6,"v":12.5},{"s":12,"f":8,"v":11},{"s":12,"f":10,"v":9.5},{"s":12,"f":12,"v":8.5},{"s":12,"f":14,"v":7.5},{"s":12,"f":16,"v":6.5},{"s":12,"f":18,"v":5.6},{"s":12,"f":20,"v":4.8},{"s":12,"f":25,"v":3},{"s":12,"f":30,"v":1.7},{"s":12,"f":35,"v":0.9},{"s":12,"f":40,"v":0.4},
{"s":13,"f":0,"v":12},{"s":13,"f":2,"v":11},{"s":13,"f":4,"v":11},{"s":13,"f":6,"v":10.5},{"s":13,"f":8,"v":9.5},{"s":13,"f":10,"v":8.5},{"s":13,"f":12,"v":7.5},{"s":13,"f":14,"v":6.6},{"s":13,"f":16,"v":5.8},{"s":13,"f":18,"v":5},{"s":13,"f":20,"v":4.3},{"s":13,"f":25,"v":2.7},{"s":13,"f":30,"v":1.5},{"s":13,"f":35,"v":0.8},
{"s":14,"f":0,"v":5},{"s":14,"f":2,"v":7.5},{"s":14,"f":4,"v":9},{"s":14,"f":6,"v":9},{"s":14,"f":8,"v":8.3},{"s":14,"f":10,"v":7.5},{"s":14,"f":13,"v":6.3},{"s":14,"f":16,"v":5.2},{"s":14,"f":20,"v":3.9},{"s":14,"f":25,"v":2.5},{"s":14,"f":30,"v":1.4},{"s":14,"f":35,"v":0.7},
{"s":15,"f":0,"v":8},{"s":15,"f":3,"v":7.8},{"s":15,"f":6,"v":7.5},{"s":15,"f":10,"v":6.5},{"s":15,"f":14,"v":5.5},{"s":15,"f":18,"v":4.5},{"s":15,"f":22,"v":3.5},{"s":15,"f":26,"v":2.6},{"s":15,"f":30,"v":1.8},{"s":15,"f":35,"v":1},{"s":15,"f":40,"v":0.5},
{"s":16,"f":0,"v":4},{"s":16,"f":2,"v":5},{"s":16,"f":4,"v":5.5},{"s":16,"f":6,"v":5.5},{"s":16,"f":10,"v":5},{"s":16,"f":14,"v":4.3},{"s":16,"f":18,"v":3.5},{"s":16,"f":22,"v":2.7},{"s":16,"f":26,"v":2},{"s":16,"f":30,"v":1.4},{"s":16,"f":35,"v":0.8},
{"s":17,"f":0,"v":3},{"s":17,"f":4,"v":3.8},{"s":17,"f":8,"v":3.5},{"s":17,"f":12,"v":3},{"s":17,"f":16,"v":2.5},{"s":17,"f":20,"v":2},{"s":17,"f":25,"v":1.4},{"s":17,"f":30,"v":0.9},{"s":17,"f":35,"v":0.5},
{"s":18,"f":0,"v":2.5},{"s":18,"f":5,"v":2.3},{"s":18,"f":10,"v":2},{"s":18,"f":15,"v":1.7},{"s":18,"f":20,"v":1.3},{"s":18,"f":25,"v":0.9},{"s":18,"f":30,"v":0.6},
{"s":19,"f":0,"v":0.5},{"s":19,"f":10,"v":0.5},{"s":19,"f":25,"v":0.5},{"s":19,"f":40,"v":0.5},{"s":19,"f":50,"v":0.5},
{"s":20,"f":0,"v":3},{"s":20,"f":2,"v":7},{"s":20,"f":4,"v":10},{"s":20,"f":6,"v":10},{"s":20,"f":8,"v":9},{"s":20,"f":10,"v":8},{"s":20,"f":13,"v":6.7},{"s":20,"f":16,"v":5.5},{"s":20,"f":20,"v":4.2},{"s":20,"f":25,"v":2.8},{"s":20,"f":30,"v":1.6},{"s":20,"f":35,"v":0.9},{"s":20,"f":40,"v":0.4},
{"s":21,"f":0,"v":12},{"s":21,"f":2,"v":17},{"s":21,"f":3,"v":20},{"s":21,"f":4,"v":22},{"s":21,"f":5,"v":21.5},{"s":21,"f":6,"v":20},{"s":21,"f":8,"v":16},{"s":21,"f":10,"v":13},{"s":21,"f":12,"v":11},{"s":21,"f":14,"v":9.5},{"s":21,"f":16,"v":8},{"s":21,"f":18,"v":7},{"s":21,"f":20,"v":6},{"s":21,"f":25,"v":3.8},{"s":21,"f":30,"v":2.2},{"s":21,"f":35,"v":1.2},{"s":21,"f":40,"v":0.6},{"s":21,"f":45,"v":0.3},
{"s":22,"f":0,"v":9},{"s":22,"f":2,"v":12},{"s":22,"f":4,"v":14},{"s":22,"f":6,"v":13.5},{"s":22,"f":8,"v":12},{"s":22,"f":10,"v":10.5},{"s":22,"f":13,"v":8.6},{"s":22,"f":16,"v":7},{"s":22,"f":20,"v":5.3},{"s":22,"f":25,"v":3.4},{"s":22,"f":30,"v":2},{"s":22,"f":35,"v":1.1},{"s":22,"f":40,"v":0.5},
{"s":23,"f":0,"v":6},{"s":23,"f":2,"v":8.5},{"s":23,"f":4,"v":10.5},{"s":23,"f":6,"v":10.5},{"s":23,"f":8,"v":9.5},{"s":23,"f":10,"v":8.8},{"s":23,"f":13,"v":7.5},{"s":23,"f":16,"v":6.2},{"s":23,"f":20,"v":4.7},{"s":23,"f":25,"v":3.1},{"s":23,"f":30,"v":1.8},{"s":23,"f":35,"v":1},{"s":23,"f":40,"v":0.5},
{"s":24,"f":0,"v":15},{"s":24,"f":2,"v":16},{"s":24,"f":3,"v":17},{"s":24,"f":4,"v":17},{"s":24,"f":6,"v":15},{"s":24,"f":8,"v":12.5},{"s":24,"f":10,"v":10.5},{"s":24,"f":13,"v":8.5},{"s":24,"f":16,"v":7},{"s":24,"f":20,"v":5.2},{"s":24,"f":25,"v":3.3},{"s":24,"f":30,"v":1.9},{"s":24,"f":35,"v":1},{"s":24,"f":40,"v":0.4},
{"s":25,"f":0,"v":4},{"s":25,"f":2,"v":5.5},{"s":25,"f":4,"v":7},{"s":25,"f":6,"v":7},{"s":25,"f":8,"v":6.5},{"s":25,"f":10,"v":6},{"s":25,"f":13,"v":5.2},{"s":25,"f":16,"v":4.4},{"s":25,"f":20,"v":3.4},{"s":25,"f":25,"v":2.3},{"s":25,"f":30,"v":1.4},{"s":25,"f":35,"v":0.7},
{"s":26,"f":0,"v":11},{"s":26,"f":2,"v":13},{"s":26,"f":4,"v":12.5},{"s":26,"f":6,"v":11.5},{"s":26,"f":8,"v":10.5},{"s":26,"f":10,"v":9.5},{"s":26,"f":13,"v":8},{"s":26,"f":16,"v":6.7},{"s":26,"f":20,"v":5.1},{"s":26,"f":25,"v":3.3},{"s":26,"f":30,"v":1.9},{"s":26,"f":35,"v":1},{"s":26,"f":40,"v":0.5},
{"s":27,"f":0,"v":1.5},{"s":27,"f":4,"v":1.5},{"s":27,"f":8,"v":1.4},{"s":27,"f":12,"v":1.2},{"s":27,"f":16,"v":1},{"s":27,"f":20,"v":0.8}
]
},
"columns":3,
"bounds":"flush",
"spacing":{"row":94,"column":95},
"concat":[
{"width":237,"height":237,"title":{"text":"Y, Horizontal eye","dy":41},"data":{"name":"yh"},
 "mark":{"type":"line","strokeWidth":2.2},
 "encoding":{"x":{"field":"f","type":"quantitative","scale":{"domain":[0,50],"nice":false},"axis":{"values":[0,10,20,30,40,50],"title":null}},
  "y":{"field":"v","type":"quantitative","scale":{"domain":[0,0.3],"nice":false},"axis":{"values":[0,0.1,0.2,0.3],"format":"~g","title":"Power"}},
  "detail":{"field":"s","type":"nominal"}}},
{"width":237,"height":237,"title":{"text":"Y, Vertical eye","dy":41},"data":{"name":"yv"},
 "mark":{"type":"line","strokeWidth":2.2},
 "encoding":{"x":{"field":"f","type":"quantitative","scale":{"domain":[0,50],"nice":false},"axis":{"values":[0,10,20,30,40,50],"title":null}},
  "y":{"field":"v","type":"quantitative","scale":{"domain":[0,0.3],"nice":false},"axis":{"values":[0,0.1,0.2,0.3],"format":"~g","title":null}},
  "detail":{"field":"s","type":"nominal"}}},
{"width":237,"height":237,"title":{"text":"Y, Firing rate","dy":41},"data":{"name":"yf"},
 "mark":{"type":"line","strokeWidth":1.6},
 "encoding":{"x":{"field":"f","type":"quantitative","scale":{"domain":[0,50],"nice":false},"axis":{"values":[0,10,20,30,40,50],"title":null}},
  "y":{"field":"v","type":"quantitative","scale":{"domain":[0,60],"nice":false},"axis":{"values":[0,10,20,30,40,50,60],"format":"d","title":null}},
  "detail":{"field":"s","type":"nominal"}}},
{"width":237,"height":237,"title":{"text":"J, Horizontal eye","dy":35},"data":{"name":"jh"},
 "mark":{"type":"line","strokeWidth":2.2},
 "encoding":{"x":{"field":"f","type":"quantitative","scale":{"domain":[0,50],"nice":false},"axis":{"values":[0,10,20,30,40,50],"title":"Frequency (Hz)"}},
  "y":{"field":"v","type":"quantitative","scale":{"domain":[0,0.36],"nice":false},"axis":{"values":[0,0.1,0.2,0.3],"format":"~g","title":"Power"}},
  "detail":{"field":"s","type":"nominal"}}},
{"width":237,"height":237,"title":{"text":"J, Vertical eye","dy":35},"data":{"name":"jv"},
 "mark":{"type":"line","strokeWidth":2.2},
 "encoding":{"x":{"field":"f","type":"quantitative","scale":{"domain":[0,50],"nice":false},"axis":{"values":[0,10,20,30,40,50],"title":"Frequency (Hz)"}},
  "y":{"field":"v","type":"quantitative","scale":{"domain":[0,0.36],"nice":false},"axis":{"values":[0,0.1,0.2,0.3],"format":"~g","title":null}},
  "detail":{"field":"s","type":"nominal"}}},
{"width":237,"height":237,"title":{"text":"J, Firing rate","dy":42},"data":{"name":"jf"},
 "mark":{"type":"line","strokeWidth":1.6},
 "encoding":{"x":{"field":"f","type":"quantitative","scale":{"domain":[0,50],"nice":false},"axis":{"values":[0,10,20,30,40,50],"title":"Frequency (Hz)"}},
  "y":{"field":"v","type":"quantitative","scale":{"domain":[0,60],"nice":false},"axis":{"values":[0,10,20,30,40,50,60],"format":"d","title":null}},
  "detail":{"field":"s","type":"nominal"}}}
]
}
